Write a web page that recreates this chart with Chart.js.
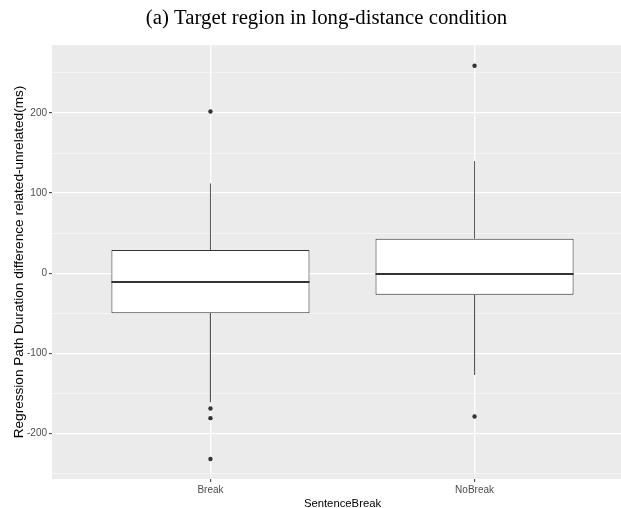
<!DOCTYPE html>
<html>
<head>
<meta charset="utf-8">
<script src="https://cdn.jsdelivr.net/npm/chart.js@4/dist/chart.umd.min.js"></script>
<style>
html, body { margin: 0; padding: 0; overflow: hidden; background: #ffffff; width: 621px; height: 508px; }
canvas { display: block; }
</style>
</head>
<body>
<canvas id="c" width="653" height="508"></canvas>
<script>
// ---- data ----
const categories = ['Break', 'NoBreak'];
const lowerWhisker = [-161, -127];
const q1 = [-50, -27];
const median = [-11, -1];
const q3 = [29, 43];
const upperWhisker = [112, 140];
const outliersBreak = [202, -169, -181, -232];
const outliersNoBreak = [259, -179];
const yTickLabels = [-200, -100, 0, 100, 200];

const outliers = [outliersBreak, outliersNoBreak];
const boxWidth = 0.75;

// ---- build datasets from the arrays ----
const boxData = categories.map((c, i) => ({ x: i + 1, y: [q1[i], q3[i]] }));
const medianData = [];
const whiskerData = [];
const outlierData = [];
categories.forEach((c, i) => {
  const x = i + 1;
  medianData.push({ x: x - boxWidth / 2, y: median[i] }, { x: x + boxWidth / 2, y: median[i] }, { x: x, y: null });
  whiskerData.push({ x: x, y: q3[i] }, { x: x, y: upperWhisker[i] }, { x: x, y: null });
  whiskerData.push({ x: x, y: q1[i] }, { x: x, y: lowerWhisker[i] }, { x: x, y: null });
  outliers[i].forEach(v => outlierData.push({ x: x, y: v }));
});

const panelBg = {
  id: 'panelBg',
  beforeDraw(chart) {
    const { ctx, chartArea: a } = chart;
    ctx.save();
    ctx.fillStyle = '#EBEBEB';
    ctx.fillRect(a.left, a.top, a.right - a.left, a.bottom - a.top);
    ctx.restore();
  }
};

const isMajor = v => yTickLabels.includes(v);

new Chart(document.getElementById('c'), {
  type: 'bar',
  data: {
    datasets: [
      {
        type: 'scatter',
        data: outlierData,
        pointRadius: 2.2,
        pointBackgroundColor: '#333333',
        pointBorderWidth: 0,
        showLine: false
      },
      {
        type: 'scatter',
        data: medianData,
        showLine: true,
        spanGaps: false,
        borderColor: '#333333',
        borderWidth: 1.8,
        pointRadius: 0
      },
      {
        type: 'scatter',
        data: whiskerData,
        showLine: true,
        spanGaps: false,
        borderColor: '#555555',
        borderWidth: 1,
        pointRadius: 0
      },
      {
        type: 'bar',
        data: boxData,
        backgroundColor: '#FFFFFF',
        borderColor: '#333333',
        borderWidth: 1,
        borderSkipped: false,
        barPercentage: boxWidth,
        categoryPercentage: 1
      }
    ]
  },
  options: {
    responsive: false,
    animation: false,
    devicePixelRatio: 1,
    layout: { padding: { left: 20, right: 20, top: 0, bottom: 0 } },
    plugins: {
      legend: { display: false },
      tooltip: { enabled: false },
      title: {
        display: true,
        text: '(a) Target region in long-distance condition',
        color: '#000000',
        font: { family: '"Liberation Serif", "Times New Roman", serif', size: 20.8, weight: 'normal', lineHeight: 1.2 },
        padding: { top: 6.5, bottom: 13.5 }
      }
    },
    scales: {
      x: {
        type: 'linear',
        min: 0.4,
        max: 2.6,
        offset: false,
        afterBuildTicks: s => { s.ticks = categories.map((c, i) => ({ value: i + 1 })); },
        afterFit: s => { s.height = 29; },
        border: { display: false },
        grid: {
          offset: false,
          color: '#FFFFFF',
          lineWidth: 1.3,
          drawTicks: true,
          tickLength: 3,
          tickColor: '#333333',
          tickWidth: 1
        },
        ticks: {
          autoSkip: false,
          maxRotation: 0,
          padding: 2,
          color: '#4D4D4D',
          font: { family: '"Liberation Sans", Arial, sans-serif', size: 10 },
          callback: v => categories[Math.round(v) - 1]
        },
        title: {
          display: true,
          text: 'SentenceBreak',
          color: '#000000',
          font: { family: '"Liberation Sans", Arial, sans-serif', size: 11.3, lineHeight: 0.8 },
          padding: { top: 0, bottom: 0 }
        }
      },
      y: {
        type: 'linear',
        min: -257,
        max: 285,
        afterFit: s => { s.width = 32; },
        border: { display: false },
        grid: {
          color: ctx => isMajor(ctx.tick.value) ? '#FFFFFF' : '#F8F8F8',
          lineWidth: ctx => isMajor(ctx.tick.value) ? 1.3 : 0.7,
          drawTicks: true,
          tickLength: 3,
          tickColor: ctx => isMajor(ctx.tick.value) ? '#333333' : 'rgba(0,0,0,0)',
          tickWidth: 1
        },
        ticks: {
          stepSize: 50,
          includeBounds: false,
          autoSkip: false,
          padding: 2,
          color: '#4D4D4D',
          font: { family: '"Liberation Sans", Arial, sans-serif', size: 10 },
          callback: v => isMajor(v) ? String(v) : ''
        },
        title: {
          display: true,
          text: 'Regression Path Duration difference related-unrelated(ms)',
          color: '#000000',
          font: { family: '"Liberation Sans", Arial, sans-serif', size: 13.6, lineHeight: 1 },
          padding: { top: -7.6, bottom: 0 }
        }
      }
    }
  },
  plugins: [panelBg]
});
</script>
</body>
</html>
